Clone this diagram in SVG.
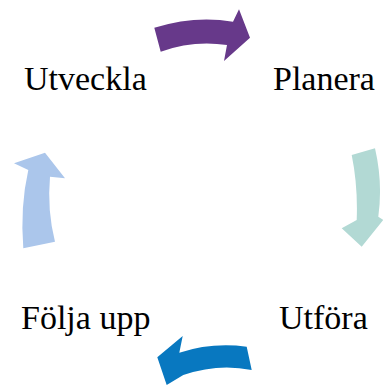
<svg xmlns="http://www.w3.org/2000/svg" width="383" height="386" viewBox="0 0 383 386">
<style>
.lbl{font-family:"Liberation Serif","Times New Roman",serif;font-size:34px;fill:#000}
</style>
<rect width="383" height="386" fill="#fff"/>
<g id="connectors">
<path id="arrow-top" fill="#67398A" d="M154.3,27.7 Q195,15 233,21.7 L239,9.3 L250,37.7 L224,61 L227,45 Q193,40 160.7,51.7 Z"/>
<path id="arrow-right" fill="#B2D9D4" d="M351.7,155 L375,148.3 Q383,183 378.3,216.7 L383.3,220 L361.7,246.7 L341.7,228.3 L356.7,220 Q358,186 351.7,155 Z"/>
<path id="arrow-bottom" fill="#0878C0" d="M246.7,346.7 L251.7,370 Q218,363 183.3,375 L166.7,385 L157.3,357.3 L182.7,336 L179.3,352.7 Q212,342 246.7,346.7 Z"/>
<path id="arrow-left" fill="#ABC6EB" d="M23.3,248.3 Q20,207 28.3,170 L14,163.3 L45,152.7 L65,178.3 L50,176.7 Q47,210 55,241.7 Z"/>
</g>
<g id="node-planera"><text class="lbl" x="273" y="90">Planera</text></g>
<g id="node-utfora"><text class="lbl" x="279" y="329">Utföra</text></g>
<g id="node-folja"><text class="lbl" x="21" y="329">Följa upp</text></g>
<g id="node-utveckla"><text class="lbl" x="24" y="90">Utveckla</text></g>
</svg>
